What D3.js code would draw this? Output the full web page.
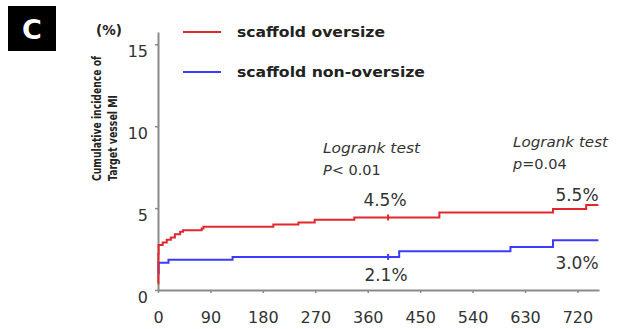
<!DOCTYPE html>
<html><head><meta charset="utf-8">
<script src="https://cdn.jsdelivr.net/npm/d3@7"></script>
<style>body{margin:0;background:#fff}svg{display:block}</style>
</head><body>
<svg id="c" width="627" height="329"></svg>
<script>
// ---- data ----
const xTicks = [0, 90, 180, 270, 360, 450, 540, 630, 720];
const yTicks = [0, 5, 10, 15];
const seriesNames = ["scaffold oversize", "scaffold non-oversize"];
const oversizeDays = [0, 0.6, 1, 8, 15, 22, 29, 38, 43, 75, 78, 198, 241, 269, 337, 483, 678, 735, 756];
const oversizeVals = [0.4, 2.2, 2.74, 2.9, 3.06, 3.2, 3.41, 3.55, 3.65, 3.75, 3.86, 4.0, 4.12, 4.29, 4.43, 4.73, 4.94, 5.19, 5.19];
const nonOversizeDays = [0, 1, 18, 128, 414, 605, 678, 756];
const nonOversizeVals = [1.0, 1.67, 1.84, 2.02, 2.36, 2.63, 3.04, 3.04];
const censorDay = 395;
const pctLabels = ["4.5%", "5.5%", "2.1%", "3.0%"];

const svg = d3.select("#c");
const x = d3.scaleLinear().domain([0, 757]).range([158, 599]);
const y = d3.scaleLinear().domain([0, 15.75]).range([290, 32]);
const font = "'DejaVu Sans', Verdana, sans-serif";
const axisCol = "#8a8a8a";
const red = "#e0282c", blue = "#3b3bff";

// Panel letter
svg.append("rect").attr("x", 8).attr("y", 6).attr("width", 48).attr("height", 45).attr("fill", "#000");
svg.append("text").attr("x", 32).attr("y", 39).attr("text-anchor", "middle")
  .attr("font-family", font).attr("font-weight", "bold").attr("font-size", 27).attr("fill", "#fff").text("C");

// Axes
const gx = svg.append("g").attr("transform", `translate(0,${y(0)})`)
  .call(d3.axisBottom(x).tickValues(xTicks).tickSize(3).tickSizeOuter(0).tickPadding(19));
const gy = svg.append("g").attr("transform", `translate(${x(0)},0)`)
  .call(d3.axisLeft(y).tickValues(yTicks).tickSize(3).tickSizeOuter(0).tickPadding(7));
[gx, gy].forEach(g => {
  g.select(".domain").attr("stroke", axisCol).attr("stroke-width", 2);
  g.selectAll(".tick line").attr("stroke", axisCol).attr("stroke-width", 1.5);
  g.selectAll(".tick text").attr("font-family", font).attr("font-size", 16).attr("fill", "#333");
});
gx.selectAll(".tick text").attr("dy", "0.71em");
gy.selectAll(".tick text").attr("dy", "0.75em");

// "(%)"
svg.append("text").attr("x", 109).attr("y", 35).attr("text-anchor", "middle")
  .attr("font-family", font).attr("font-weight", "bold").attr("font-size", 13.5).attr("fill", "#222").text("(%)");

// Y axis title
const yt = svg.append("text").attr("transform", "translate(0,181) rotate(-90)")
  .attr("font-family", font).attr("font-weight", "bold").attr("font-size", 13).attr("fill", "#222");
yt.append("tspan").attr("x", 0).attr("y", 101).attr("textLength", 125).attr("lengthAdjust", "spacingAndGlyphs").text("Cumulative incidence of");
yt.append("tspan").attr("x", 0).attr("y", 117).attr("textLength", 86).attr("lengthAdjust", "spacingAndGlyphs").text("Target vessel MI");

// Curves
const line = d3.line().x(d => x(d[0])).y(d => y(d[1])).curve(d3.curveStepAfter);
const redData = oversizeDays.map((d, i) => [d, oversizeVals[i]]);
const blueData = nonOversizeDays.map((d, i) => [d, nonOversizeVals[i]]);
svg.append("path").datum(blueData).attr("d", line).attr("fill", "none").attr("stroke", blue).attr("stroke-width", 2);
svg.append("path").datum(redData).attr("d", line).attr("fill", "none").attr("stroke", red).attr("stroke-width", 2);

// censor marks
function valAt(days, vals, t) { let v = vals[0]; days.forEach((d, i) => { if (d <= t) v = vals[i]; }); return v; }
[[oversizeDays, oversizeVals, red], [nonOversizeDays, nonOversizeVals, blue]].forEach(([ds, vs, c]) => {
  const v = valAt(ds, vs, censorDay);
  svg.append("line").attr("x1", x(censorDay)).attr("x2", x(censorDay))
    .attr("y1", y(v) - 3).attr("y2", y(v) + 3).attr("stroke", c).attr("stroke-width", 2);
});

// Legend
[[red, 32, seriesNames[0], 148], [blue, 72, seriesNames[1], 188]].forEach(([c, yy, t, len]) => {
  svg.append("line").attr("x1", 183).attr("x2", 221).attr("y1", yy).attr("y2", yy).attr("stroke", c).attr("stroke-width", 2);
  svg.append("text").attr("x", 237).attr("y", yy + 5).attr("font-family", font).attr("font-weight", "bold")
    .attr("font-size", 14).attr("fill", "#222").attr("textLength", len).attr("lengthAdjust", "spacingAndGlyphs").text(t);
});

// Logrank annotations
function logrank(x0, y0, letter, rest, w1, w2) {
  svg.append("text").attr("x", x0).attr("y", y0).attr("font-family", font).attr("font-style", "italic")
    .attr("font-size", 14.5).attr("fill", "#333").attr("textLength", w1).attr("lengthAdjust", "spacingAndGlyphs").text("Logrank test");
  const t = svg.append("text").attr("x", x0).attr("y", y0 + 22).attr("font-family", font)
    .attr("font-size", 14.5).attr("fill", "#333");
  t.append("tspan").attr("font-style", "italic").text(letter);
  t.append("tspan").text(rest);
}
logrank(323, 153, "P", "< 0.01", 97);
logrank(513, 147, "p", "=0.04", 95);

// percentage labels
const pctPos = [[385, 206], [577, 201], [386, 281], [577, 269]];
pctLabels.forEach((t, i) => {
  svg.append("text").attr("x", pctPos[i][0]).attr("y", pctPos[i][1]).attr("text-anchor", "middle")
    .attr("font-family", font).attr("font-size", 17).attr("fill", "#333").text(t);
});
</script>
</body></html>
